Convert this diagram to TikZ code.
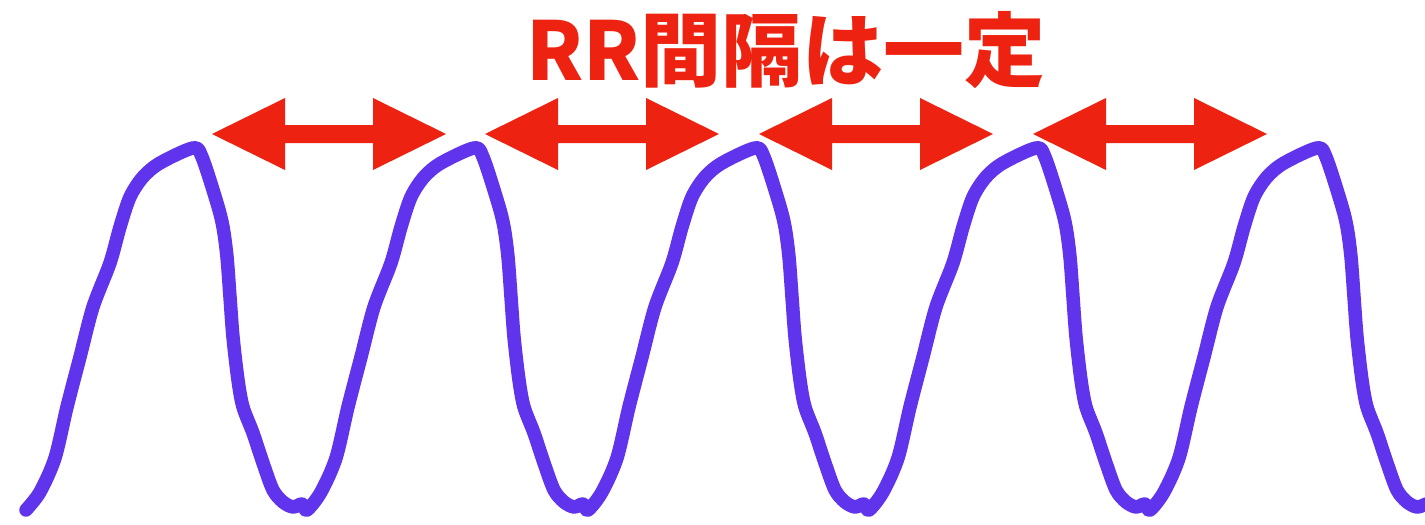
\documentclass[tikz,border=0pt]{standalone}
\usepackage{fontspec}
\newfontfamily\cjk{Noto Sans CJK JP}
\definecolor{wavepurple}{HTML}{6033EC}
\definecolor{arrowred}{HTML}{EE2210}
\newcommand\cyc[1]{({#1+0},510) ({#1+14},492) ({#1+29},458) ({#1+41},407) ({#1+54},357) ({#1+67},307) ({#1+84},263) ({#1+94},227) ({#1+104},197) ({#1+117},177) ({#1+134},163) ({#1+167},148) ({#1+176},157) ({#1+191},203) ({#1+197},227) ({#1+201},257) ({#1+204},297) ({#1+207},337) ({#1+212},380) ({#1+217},407) ({#1+227},433) ({#1+237},463) ({#1+247},490) ({#1+257},502) ({#1+267},507) ({#1+276},504) }
\edef\wavepts{\cyc{26}\cyc{307}\cyc{588}\cyc{869}\cyc{1150}}
\newcommand\drawwave[1]{\draw[wave] plot[smooth,tension=0.5] coordinates {#1};}
\newcommand\rrarrow[2]{\coordinate (#2) at (#1,134);
  \fill[rrarrowstyle] (#2) -- ++(73,-36) -- ++(0,27) -- ++(88,0) -- ++(0,-27) -- ++(73,36) -- ++(-73,36) -- ++(0,-27) -- ++(-88,0) -- ++(0,27) -- cycle;}
\begin{document}
\begin{tikzpicture}[x=1pt,y=-1pt,
  wave/.style={draw=wavepurple,line width=13.5pt,line cap=round,line join=round},
  rrarrowstyle/.style={fill=arrowred},
  titlestyle/.style={text=arrowred,inner sep=0pt,font=\cjk\bfseries\fontsize{81}{81}\selectfont}]
\useasboundingbox (0,0) rectangle (1425,525);
\clip (0,0) rectangle (1425,525);
\fill[white] (0,0) rectangle (1425,525);
\expandafter\drawwave\expandafter{\wavepts}
\rrarrow{212}{a1}
\rrarrow{485}{a2}
\rrarrow{759}{a3}
\rrarrow{1033}{a4}
\node[titlestyle] (title) at (786,50) {RR間隔は一定};
\end{tikzpicture}
\end{document}
